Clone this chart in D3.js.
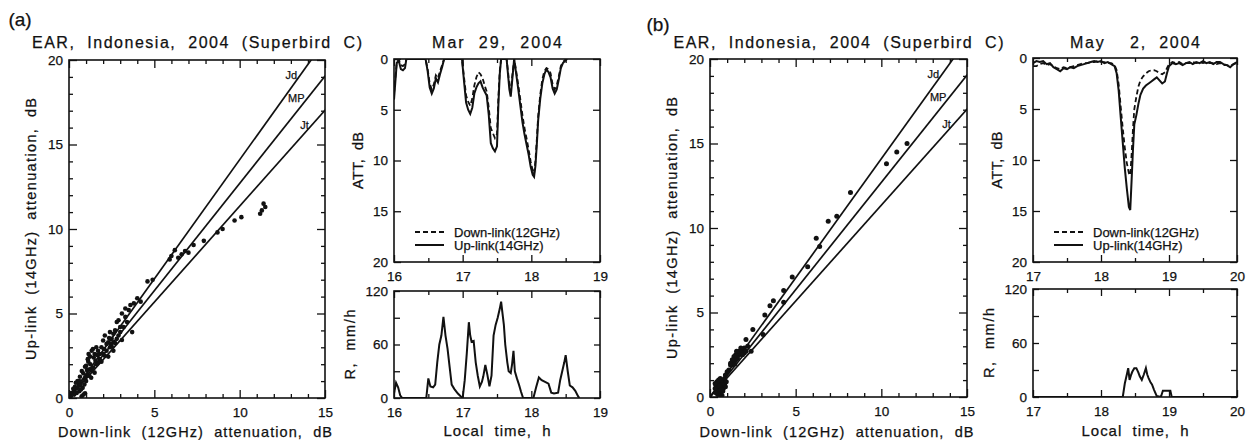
<!DOCTYPE html>
<html>
<head>
<meta charset="utf-8">
<script src="https://cdn.jsdelivr.net/npm/d3@7"></script>
<style>
  body { margin: 0; background: #fff; }
  svg { display: block; font-family: "Liberation Sans", Arial, sans-serif; }
  svg text { stroke: #111; stroke-width: 0.25px; }
</style>
</head>
<body>
<svg id="fig" width="1254" height="440"></svg>
<script>
// ---- frequency-scaling model lines (up-link / down-link ratio) ----
const modelNames = ["Jd", "MP", "Jt"];
const modelRatios = [1.41, 1.27, 1.135];

// ---- scatter: [down-link dB, up-link dB] ----
const pointsA = [
  [11.4,11.5],[11.5,11.3],[11.3,11.1],[11.2,10.9],[10.1,10.7],[9.7,10.5],[9.0,10.0],[8.7,9.8],
  [7.9,9.3],[7.3,9.05],[7.0,8.6],[6.8,8.7],[6.6,8.5],[6.4,8.3],[6.2,8.75],[6.0,8.4],[5.9,8.2],
  [4.9,7.0],[4.6,6.9],[4.2,5.7],[4.0,5.9],[3.8,5.6],[3.7,3.9],[3.6,5.5],[3.5,5.2],[3.3,5.3],
  [3.3,4.8],[3.1,5.0],[2.9,4.6],[2.8,4.5],[3.0,3.9],[2.7,4.0],[2.5,3.5],[2.6,3.8],[2.4,3.9],
  [2.3,3.3],[2.2,3.2],[2.1,3.7],[2.0,3.4],[1.9,3.0],[1.9,2.15],[2.3,2.45],[2.6,2.8],[3.1,3.43],
  [1.7,2.8],[1.6,3.0],[1.5,2.6],[1.4,2.9],[1.33,2.8],[1.23,2.45],[1.13,2.15],[1.2,1.7],[1.1,2.3],
  [1.0,1.9],[0.94,1.85],[0.84,1.46],[0.64,1.26],[0.55,0.87],[0.35,0.67],[0.3,0.47],[0.94,0.28],
  [0.74,0.1],[0.5,1.0],[0.4,0.9],[0.2,0.3],[0.1,0.1],[0.6,0.4],[0.8,0.6],[1.0,1.0],[1.2,1.3],
  [1.4,1.8],[1.6,2.0],[1.8,2.3],[2.0,2.6],[2.2,2.8],[2.4,3.0],[2.6,3.3],[2.8,3.5],[3.0,4.2],
  [3.2,4.2],[1.5,1.5],[1.3,1.2],[0.9,0.8],[0.7,0.5],[1.1,1.4],[1.7,2.1],[2.1,2.5],[1.8,2.6],
  [1.25,2.0],[0.45,0.3],[0.25,0.55],[0.15,0.3],[0.85,0.2],[0.65,0.75],[1.05,1.65],[1.45,2.4],
  [1.65,2.55],[2.5,3.05],[2.7,3.25],[2.35,3.55],[1.15,2.6],[0.75,1.6],[0.6,1.0],[1.55,2.2],
  [2.05,2.9],[2.45,3.2],[2.9,3.7],[3.4,4.5],[0.95,1.2],[1.35,1.6],[0.3,0.2],[0.5,0.6]
];
const pointsB = [
  [11.5,15.0],[10.9,14.5],[10.3,13.8],[8.2,12.1],[7.4,10.7],[6.9,10.4],[6.4,8.9],[6.2,9.4],
  [5.7,7.7],[4.8,7.1],[4.3,6.3],[4.3,5.6],[3.7,5.7],[3.5,5.4],[3.2,4.85],[3.1,3.7],[2.5,4.0],
  [2.1,3.4],[2.4,2.7],[2.2,3.0],[2.0,2.9],[1.9,2.8],[2.0,2.6],[1.8,2.9],[1.8,2.6],[1.7,2.7],
  [1.7,2.5],[1.6,2.6],[1.6,2.3],[1.5,2.5],[1.5,2.2],[1.4,2.4],[1.4,2.1],[1.3,2.2],[1.3,1.9],
  [1.2,1.9],[1.2,2.0],[1.9,2.5],[2.1,2.7],[1.55,2.7],[1.45,1.95],[1.1,1.6],[1.0,1.5],[0.9,1.3],
  [0.85,1.1],[0.8,1.0],[0.75,0.8],[0.7,0.6],[0.65,0.9],[0.6,0.7],[0.55,0.5],[0.5,0.8],[0.45,0.6],
  [0.4,0.4],[0.35,0.7],[0.3,0.5],[0.5,0.3],[0.6,0.2],[0.7,0.1],[0.65,0.0],[0.55,0.05],[0.45,0.15],
  [0.75,0.35],[0.8,0.55],[0.85,0.75],[0.4,0.9],[0.5,1.0],[0.6,1.1],[0.35,0.25],[0.7,0.4],
  [0.9,0.6],[0.95,0.9],[0.3,0.8],[0.55,0.65],[0.65,0.45]
];

// ---- Mar 29, 2004: attenuation time series ----
const attTimeA = [16.00,16.02,16.04,16.07,16.10,16.13,16.16,16.18,16.46,16.49,16.52,16.55,16.58,16.61,
  16.64,16.67,16.70,16.73,16.99,17.02,17.05,17.08,17.11,17.14,17.17,17.20,17.23,17.26,17.29,17.32,
  17.35,17.38,17.41,17.44,17.47,17.50,17.52,17.54,17.56,17.64,17.66,17.68,17.70,17.72,17.75,17.78,
  17.81,17.84,17.87,17.90,17.93,17.96,17.99,18.02,18.04,18.06,18.08,18.10,18.13,18.16,18.19,18.22,
  18.25,18.28,18.31,18.34,18.37,18.40,18.43,18.46,18.49,18.52];
const attUpA = [4.0,2.2,0.4,0.2,1.0,1.1,0.9,0.0,0.0,1.2,2.8,3.4,2.9,1.9,
  2.3,1.5,0.8,0.0,0.0,2.2,4.3,5.0,5.4,4.8,3.4,2.8,2.4,2.2,2.8,3.2,
  3.6,5.5,8.3,8.8,9.1,8.6,4.5,1.5,0.0,0.0,1.5,3.0,3.7,2.2,0.0,1.5,
  3.0,4.6,6.2,7.4,8.4,9.4,10.6,11.4,11.6,10.5,8.4,6.0,3.9,2.4,1.5,1.0,
  1.3,1.8,2.9,3.4,3.0,2.0,0.9,0.4,0.2,0.0];
const attDownA = [3.4,1.8,0.3,0.1,0.6,0.7,0.5,0.0,0.0,1.0,2.4,3.0,2.5,1.6,
  1.9,1.2,0.6,0.0,0.0,1.8,3.6,4.2,4.6,3.9,2.6,1.8,1.3,1.5,1.9,2.6,
  3.2,4.8,6.8,7.3,7.8,7.4,3.8,1.2,0.0,0.0,1.2,2.6,3.2,1.8,0.0,1.2,
  2.6,4.0,5.5,6.8,7.8,8.9,10.1,11.0,11.3,10.0,7.9,5.6,3.5,2.0,1.2,0.9,
  1.0,1.4,2.5,3.0,2.6,1.7,0.7,0.3,0.1,0.0];

// ---- Mar 29, 2004: rain rate ----
const rainTimeA = [16.00,16.03,16.06,16.09,16.12,16.47,16.50,16.53,16.57,16.60,16.63,16.66,16.69,16.72,
  16.75,16.78,16.81,16.84,16.88,16.93,16.97,17.00,17.03,17.06,17.09,17.11,17.13,17.16,17.19,17.22,
  17.25,17.28,17.30,17.33,17.36,17.39,17.42,17.45,17.48,17.51,17.54,17.56,17.58,17.60,17.62,17.65,
  17.67,17.70,17.72,17.74,17.76,17.79,17.82,17.85,17.88,18.03,18.07,18.11,18.15,18.20,18.25,18.29,
  18.33,18.39,18.42,18.45,18.48,18.50,18.53,18.56,18.60,18.64,18.68,18.70];
const rainA = [5,17,12,3,0,0,22,13,12,15,40,60,70,91,
  70,55,35,15,10,5,2,0,20,50,85,70,63,64,40,25,
  13,18,24,37,26,13,25,70,82,90,100,108,95,82,60,40,
  30,28,38,53,30,22,15,7,0,0,12,23,20,18,16,6,
  5,6,20,30,40,48,30,14,12,8,2,0];

// ---- May 2, 2004: attenuation time series ----
const attTimeB = [17.00,17.05,17.10,17.15,17.20,17.25,17.30,17.35,17.40,17.45,17.50,17.55,17.60,17.65,
  17.70,17.75,17.80,17.85,17.90,17.95,18.00,18.05,18.10,18.15,18.20,18.23,18.26,18.29,18.32,18.35,
  18.38,18.41,18.43,18.45,18.47,18.49,18.52,18.55,18.58,18.62,18.66,18.70,18.74,18.78,18.82,18.86,
  18.90,18.94,18.97,19.00,19.05,19.10,19.15,19.20,19.25,19.30,19.35,19.40,19.45,19.50,19.55,19.60,
  19.65,19.70,19.75,19.80,19.85,19.90,19.95,20.00];
const attUpB = [0.5,0.3,0.4,0.3,0.6,0.5,0.9,1.1,1.3,1.0,1.1,0.9,1.0,0.8,
  0.7,0.6,0.5,0.4,0.3,0.4,0.3,0.5,0.4,0.6,0.8,1.5,3.2,5.8,8.3,10.8,
  12.8,14.6,14.9,12.0,9.0,6.5,5.6,4.5,3.6,3.0,2.7,2.5,2.3,2.1,1.9,2.2,
  2.5,2.3,1.5,0.8,0.5,0.6,0.5,0.7,0.5,0.4,0.6,0.4,0.5,0.3,0.5,0.4,
  0.6,0.4,0.4,0.6,0.7,0.9,0.6,0.4];
const attDownB = [0.8,0.8,0.6,0.5,0.7,0.6,0.8,1.0,1.1,0.9,1.0,0.9,0.8,0.7,
  0.6,0.5,0.5,0.4,0.4,0.3,0.4,0.4,0.5,0.5,0.7,1.2,2.6,4.8,6.9,8.8,
  10.3,11.3,11.5,9.5,7.0,5.0,3.8,2.8,2.2,1.8,1.5,1.3,1.2,1.2,1.3,1.5,
  1.6,1.4,1.0,0.6,0.4,0.5,0.4,0.6,0.5,0.5,0.4,0.5,0.4,0.5,0.4,0.5,
  0.5,0.6,0.5,0.7,0.7,0.8,0.6,0.5];

// ---- May 2, 2004: rain rate ----
const rainTimeB = [17.00,18.32,18.35,18.38,18.40,18.42,18.44,18.46,18.49,18.52,18.55,18.57,18.60,18.63,
  18.66,18.68,18.70,18.73,18.75,18.78,18.82,18.88,18.91,19.02,19.04,20.00];
const rainB = [0,0,15,25,32,19,24,28,32,32,27,23,19,25,
  32,25,21,16,14,8,1,0,7,7,0,0];

// ---- tick values and text ----
const scatterMajorX = [0, 5, 10, 15];
const scatterMajorY = [0, 5, 10, 15, 20];
const attTicks = [0, 5, 10, 15, 20];
const rainTicks = [0, 30, 60, 90, 120];
const rainLabelled = [0, 60, 120];
const hoursA = [16, 17, 18, 19];
const hoursB = [17, 18, 19, 20];
const legendNames = ["Down-link(12GHz)", "Up-link(14GHz)"];
const scatterTitle = "EAR,  Indonesia,  2004  (Superbird  C)";
const dateA = "Mar  29,  2004";
const dateB = "May    2,  2004";

const ink = "#111";
const FONT = "'Liberation Sans', Arial, sans-serif";
const svg = d3.select("#fig");

function ticks(g, scale, orient, values, len, fmt, pad, shift) {
  const make = { left: d3.axisLeft, right: d3.axisRight, top: d3.axisTop, bottom: d3.axisBottom }[orient];
  const ax = make(scale).tickValues(values).tickSizeInner(-len).tickSizeOuter(0)
    .tickPadding(pad || 0).tickFormat(fmt || (() => ""));
  const a = g.append("g").attr("transform", shift).call(ax)
    .attr("font-family", FONT).attr("font-size", 13.5);
  a.select(".domain").remove();
  a.selectAll("line").attr("stroke", ink).attr("stroke-width", 1.3);
  a.selectAll("text").attr("fill", ink);
  return a;
}

function text(x, y, str, size, opts = {}) {
  const t = svg.append("text")
    .attr("x", x).attr("y", y)
    .attr("font-size", size).attr("fill", ink)
    .attr("text-anchor", opts.anchor || "middle")
    .style("white-space", "pre")
    .text(str);
  if (opts.len) t.attr("textLength", opts.len).attr("lengthAdjust", "spacing");
  if (opts.rotate) t.attr("transform", `rotate(-90,${x},${y})`);
  return t;
}

let clipCount = 0;
function clip(g, x0, y0, w, h) {
  const id = "clip" + (clipCount++);
  g.append("clipPath").attr("id", id).append("rect")
    .attr("x", x0).attr("y", y0).attr("width", w).attr("height", h);
  return `url(#${id})`;
}

function frame(g, x0, y0, x1, y1) {
  g.append("rect").attr("x", x0).attr("y", y0).attr("width", x1 - x0).attr("height", y1 - y0)
    .attr("fill", "none").attr("stroke", ink).attr("stroke-width", 1.6);
}

// ---------------- scatter panel ----------------
function scatterPanel(p) {
  const x = d3.scaleLinear().domain([0, 15]).range([p.x0, p.x1]);
  const y = d3.scaleLinear().domain([0, 20]).range([p.y1, p.y0]);
  const g = svg.append("g");
  const cp = clip(g, p.x0, p.y0, p.x1 - p.x0, p.y1 - p.y0);
  const body = g.append("g").attr("clip-path", cp);

  const labelLevels = [19.1, 17.75, 16.15];
  modelRatios.forEach((r, i) => {
    const dEnd = 16;
    body.append("path")
      .attr("d", d3.line()([[x(0), y(0)], [x(dEnd), y(dEnd * r)]]))
      .attr("stroke", ink).attr("stroke-width", 1.7).attr("fill", "none");
    g.append("text")
      .attr("x", x(labelLevels[i] / r) - 3).attr("y", y(labelLevels[i]))
      .attr("dy", "0.35em").attr("text-anchor", "end")
      .attr("font-size", 11).attr("fill", ink)
      .text(modelNames[i]);
  });

  body.selectAll("circle.pt").data(p.points).join("circle")
    .attr("class", "pt")
    .attr("cx", d => x(d[0])).attr("cy", d => y(d[1]))
    .attr("r", p.r).attr("fill", ink);

  frame(g, p.x0, p.y0, p.x1, p.y1);
  const minorX = d3.range(0, 16).filter(v => v % 5);
  const minorY = d3.range(0, 21).filter(v => v % 5);
  ticks(g, x, "bottom", minorX, 4, null, 0, `translate(0,${p.y1})`);
  ticks(g, x, "top", minorX, 4, null, 0, `translate(0,${p.y0})`);
  ticks(g, y, "left", minorY, 4, null, 0, `translate(${p.x0},0)`);
  ticks(g, y, "right", minorY, 4, null, 0, `translate(${p.x1},0)`);
  ticks(g, x, "bottom", scatterMajorX, 8, d3.format("d"), 9, `translate(0,${p.y1})`);
  ticks(g, x, "top", scatterMajorX, 8, null, 0, `translate(0,${p.y0})`);
  ticks(g, y, "left", scatterMajorY, 8, d3.format("d"), 6, `translate(${p.x0},0)`);
  ticks(g, y, "right", scatterMajorY, 8, null, 0, `translate(${p.x1},0)`);

  const cx = (p.x0 + p.x1) / 2, cy = (p.y0 + p.y1) / 2;
  text(cx, 48, scatterTitle, 16, { len: 330 });
  text(cx - 2, 437, "Down-link  (12GHz)  attenuation,  dB", 14.5, { len: 274 });
  text(p.x0 - 33, cy, "Up-link  (14GHz)  attenuation,  dB", 14.5, { len: 262, rotate: true });
}

// ---------------- time-series panels ----------------
function timePanel(p) {
  const x = d3.scaleLinear().domain([p.hours[0], p.hours[p.hours.length - 1]]).range([p.x0, p.x1]);
  const half = d3.range(p.hours[0], p.hours[p.hours.length - 1] + 0.01, 0.5).filter(v => v % 1);

  // attenuation, 0 at the top
  const ya = d3.scaleLinear().domain([0, 20]).range([p.ay0, p.ay1]);
  const g = svg.append("g");
  const cpa = clip(g, p.x0, p.ay0, p.x1 - p.x0, p.ay1 - p.ay0);
  const la = g.append("g").attr("clip-path", cpa);
  const line = d3.line().x(d => x(d[0])).y(d => ya(d[1]));
  la.append("path").attr("d", line(p.attTime.map((t, i) => [t, p.attDown[i]])))
    .attr("fill", "none").attr("stroke", ink).attr("stroke-width", 1.8).attr("stroke-dasharray", "5,3");
  la.append("path").attr("d", line(p.attTime.map((t, i) => [t, p.attUp[i]])))
    .attr("fill", "none").attr("stroke", ink).attr("stroke-width", 2);
  frame(g, p.x0, p.ay0, p.x1, p.ay1);
  ticks(g, ya, "left", attTicks, 7, d3.format("d"), 6, `translate(${p.x0},0)`);
  ticks(g, ya, "right", attTicks, 7, null, 0, `translate(${p.x1},0)`);
  ticks(g, x, "bottom", p.hours, 7, d3.format("d"), 9, `translate(0,${p.ay1})`);
  ticks(g, x, "bottom", half, 4, null, 0, `translate(0,${p.ay1})`);
  ticks(g, x, "top", p.hours, 7, null, 0, `translate(0,${p.ay0})`);
  ticks(g, x, "top", half, 4, null, 0, `translate(0,${p.ay0})`);

  // legend
  const lx = p.x0 + 21, ly = 232;
  legendNames.forEach((name, i) => {
    g.append("line").attr("x1", lx).attr("x2", lx + 29).attr("y1", ly + i * 13).attr("y2", ly + i * 13)
      .attr("stroke", ink).attr("stroke-width", i ? 2 : 1.8).attr("stroke-dasharray", i ? null : "5,3");
    g.append("text").attr("x", lx + 39).attr("y", ly + i * 13).attr("dy", "0.35em")
      .attr("font-size", 13).attr("fill", ink).text(name);
  });

  // rain rate
  const yr = d3.scaleLinear().domain([0, 120]).range([p.ry1, p.ry0]);
  const cpr = clip(g, p.x0, p.ry0, p.x1 - p.x0, p.ry1 - p.ry0);
  g.append("g").attr("clip-path", cpr).append("path")
    .attr("d", d3.line().x(d => x(d[0])).y(d => yr(d[1]))(p.rainTime.map((t, i) => [t, p.rain[i]])))
    .attr("fill", "none").attr("stroke", ink).attr("stroke-width", 2);
  frame(g, p.x0, p.ry0, p.x1, p.ry1);
  const rfmt = v => rainLabelled.includes(v) ? d3.format("d")(v) : "";
  ticks(g, yr, "left", rainTicks, 6, rfmt, 6, `translate(${p.x0},0)`);
  ticks(g, yr, "right", rainTicks, 6, null, 0, `translate(${p.x1},0)`);
  ticks(g, x, "bottom", p.hours, 7, d3.format("d"), 9, `translate(0,${p.ry1})`);
  ticks(g, x, "bottom", half, 4, null, 0, `translate(0,${p.ry1})`);
  ticks(g, x, "top", p.hours, 7, null, 0, `translate(0,${p.ry0})`);
  ticks(g, x, "top", half, 4, null, 0, `translate(0,${p.ry0})`);

  const cx = (p.x0 + p.x1) / 2;
  text(cx, 48, p.date, 16, { len: 130 });
  text(cx, 436, "Local  time,  h", 15, { len: 107 });
  text(p.x0 - 31, (p.ay0 + p.ay1) / 2, "ATT,  dB", 14.5, { len: 57, rotate: true });
  text(p.x0 - 39, (p.ry0 + p.ry1) / 2, "R,  mm/h", 14.5, { len: 70, rotate: true });
}

scatterPanel({ x0: 69, x1: 325, y0: 60, y1: 398, points: pointsA, r: 2.3 });
scatterPanel({ x0: 710, x1: 967, y0: 59, y1: 397, points: pointsB, r: 2.5 });

timePanel({ x0: 394, x1: 600, ay0: 59, ay1: 262, ry0: 291, ry1: 398, hours: hoursA,
  attTime: attTimeA, attUp: attUpA, attDown: attDownA, rainTime: rainTimeA, rain: rainA, date: dateA });
timePanel({ x0: 1033, x1: 1237, ay0: 58, ay1: 262, ry0: 289, ry1: 397, hours: hoursB,
  attTime: attTimeB, attUp: attUpB, attDown: attDownB, rainTime: rainTimeB, rain: rainB, date: dateB });

text(20, 26, "(a)", 19);
text(658, 31, "(b)", 19);
</script>
</body>
</html>
